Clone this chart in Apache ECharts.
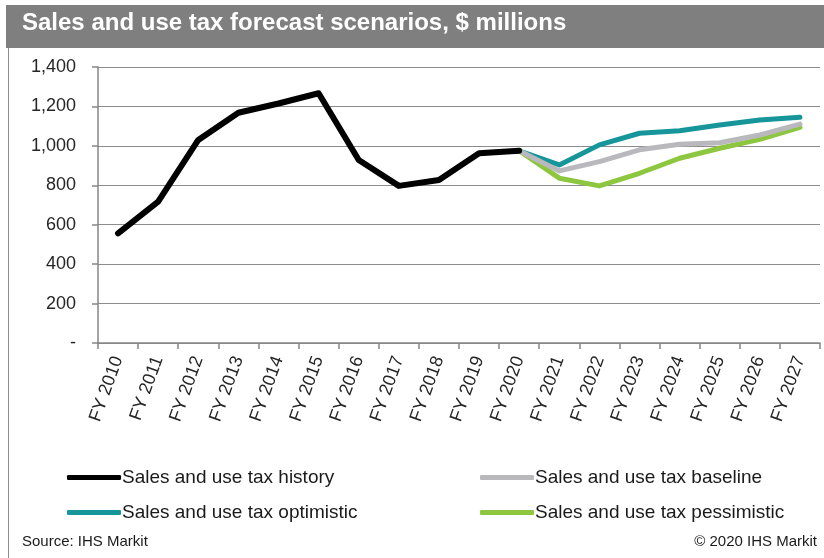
<!DOCTYPE html>
<html>
<head>
<meta charset="utf-8">
<script src="https://cdn.jsdelivr.net/npm/echarts@6/dist/echarts.min.js"></script>
<style>
  html, body { margin: 0; padding: 0; background: #fff; }
  #chart { width: 824px; height: 558px; }
</style>
</head>
<body>
<div id="chart"></div>
<script>
// Fiscal years on the category axis
const years = ['FY 2010', 'FY 2011', 'FY 2012', 'FY 2013', 'FY 2014', 'FY 2015', 'FY 2016', 'FY 2017', 'FY 2018',
               'FY 2019', 'FY 2020', 'FY 2021', 'FY 2022', 'FY 2023', 'FY 2024', 'FY 2025', 'FY 2026', 'FY 2027'];

// Sales and use tax revenue, $ millions (null = no value for that year)
const history     = [556, 717, 1030, 1168, 1215, 1267, 928, 797, 827, 962, 975, null, null, null, null, null, null, null];
const baseline    = [null, null, null, null, null, null, null, null, null, null, 975, 873, 920, 980, 1008, 1016, 1055, 1110];
const optimistic  = [null, null, null, null, null, null, null, null, null, null, 975, 903, 1005, 1064, 1077, 1106, 1131, 1145];
const pessimistic = [null, null, null, null, null, null, null, null, null, null, 975, 836, 797, 861, 937, 988, 1033, 1094];

const yTicks = [0, 200, 400, 600, 800, 1000, 1200, 1400];

const seriesNames = ['Sales and use tax history', 'Sales and use tax baseline',
                     'Sales and use tax optimistic', 'Sales and use tax pessimistic'];
const seriesColors = ['#000000', '#b9b9bd', '#16969a', '#8dc63f'];

const FONT = '"Liberation Sans", Arial, sans-serif';

const chart = echarts.init(document.getElementById('chart'), null, { renderer: 'canvas' });

function lineSeries(i, data, width) {
  return {
    name: seriesNames[i],
    type: 'line',
    data: data,
    symbol: 'none',
    connectNulls: false,
    lineStyle: { color: seriesColors[i], width: width, cap: 'round', join: 'round' },
    itemStyle: { color: seriesColors[i] },
    z: 10 - i
  };
}

function legendAt(name, left, top) {
  return {
    data: [name],
    left: left,
    top: top,
    icon: 'roundRect',
    itemWidth: 54,
    itemHeight: 5,
    itemGap: 0,
    textStyle: { fontFamily: FONT, fontSize: 19, color: '#1a1a1a', padding: [0, 0, 0, -4] }
  };
}

chart.setOption({
  animation: false,
  backgroundColor: '#ffffff',
  graphic: [
    { type: 'rect', left: 6, top: 5, shape: { width: 818, height: 43 }, style: { fill: '#7f7f7f' }, silent: true },
    { type: 'line', shape: { x1: 8.5, y1: 48, x2: 8.5, y2: 558 }, style: { stroke: '#8c8c8c', lineWidth: 1 }, silent: true },
    {
      type: 'text', left: 22, top: 11,
      style: { text: 'Sales and use tax forecast scenarios, $ millions', fill: '#ffffff',
               font: 'bold 24px "Liberation Sans", Arial, sans-serif' }
    },
    {
      type: 'text', left: 22, top: 534,
      style: { text: 'Source: IHS Markit', fill: '#1a1a1a', font: '15px "Liberation Sans", Arial, sans-serif' }
    },
    {
      type: 'text', right: 7, top: 534,
      style: { text: '\u00a9 2020 IHS Markit', fill: '#1a1a1a', font: '15px "Liberation Sans", Arial, sans-serif' }
    }
  ],
  legend: [
    legendAt(seriesNames[0], 62, 463),
    legendAt(seriesNames[1], 475, 463),
    legendAt(seriesNames[2], 62, 498),
    legendAt(seriesNames[3], 475, 498)
  ],
  grid: { left: 98, right: 4, top: 67, bottom: 215, containLabel: false },
  xAxis: {
    type: 'category',
    data: years,
    boundaryGap: true,
    axisLine: { lineStyle: { color: '#868686', width: 1.5 } },
    axisTick: { show: true, alignWithLabel: false, length: 6, lineStyle: { color: '#868686', width: 1.5 } },
    axisLabel: { rotate: 70, margin: 14, interval: 0, fontFamily: FONT, fontSize: 18, color: '#262626' },
    splitLine: { show: false }
  },
  yAxis: {
    type: 'value',
    min: yTicks[0],
    max: yTicks[yTicks.length - 1],
    interval: yTicks[1] - yTicks[0],
    axisLine: { show: true, lineStyle: { color: '#868686', width: 1.5 } },
    axisTick: { show: true, length: 6, lineStyle: { color: '#868686', width: 1.5 } },
    axisLabel: {
      margin: 22, fontFamily: FONT, fontSize: 18, color: '#262626',
      formatter: v => v === 0 ? '-' : v.toLocaleString('en-US')
    },
    splitLine: { show: true, lineStyle: { color: '#8c8c8c', width: 1 } }
  },
  series: [
    lineSeries(0, history, 6),
    lineSeries(1, baseline, 5),
    lineSeries(2, optimistic, 5),
    lineSeries(3, pessimistic, 5)
  ]
});
</script>
</body>
</html>
